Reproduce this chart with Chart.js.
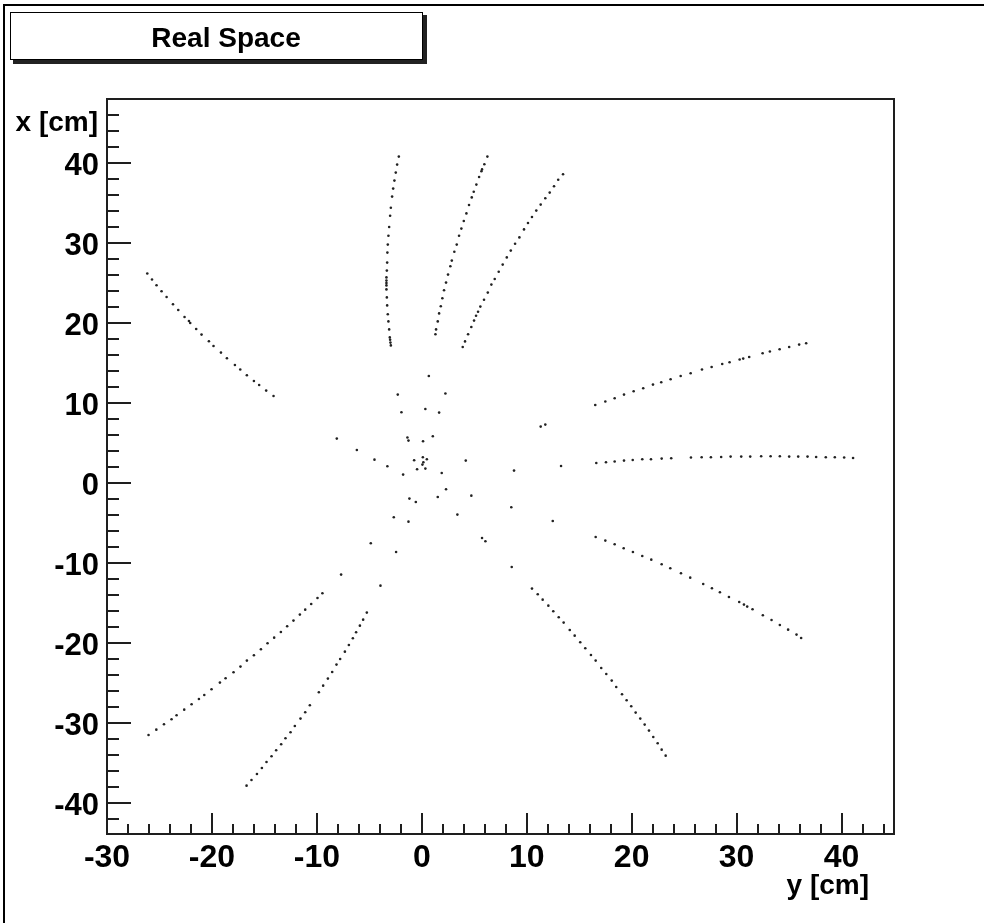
<!DOCTYPE html>
<html><head><meta charset="utf-8">
<script src="https://cdn.jsdelivr.net/npm/chart.js@4.4.1/dist/chart.umd.min.js"></script>
<style>html,body{margin:0;padding:0;background:#fff;overflow:hidden}#wrap{position:relative;width:984px;height:923px}</style>
</head><body><div id="wrap"><canvas id="c" width="984" height="923"></canvas></div>
<script>
// ---- data: horizontal axis = "y [cm]", vertical axis = "x [cm]" ----
const chartTitle = 'Real Space';
const horTitle = 'y [cm]';
const verTitle = 'x [cm]';
const horTickValues = [-30, -20, -10, 0, 10, 20, 30, 40];
const verTickValues = [-40, -30, -20, -10, 0, 10, 20, 30, 40];

const trackA_y = [-2.19,-2.35,-2.48,-2.61,-2.73,-2.83,-2.95,-3.02,-3.11,-3.18,-3.24,-3.28,-3.30,-3.33,-3.37,-3.37,-3.37,-3.37,-3.37,-3.33,-3.30,-3.24,-3.18,-3.11,-3.05,-3.02,-2.99,-2.95];
const trackA_x = [40.8,39.8,38.8,37.8,36.8,35.8,34.4,33.4,32.0,30.9,29.8,28.8,27.55,26.55,25.7,25.3,25.0,24.7,24.2,23.2,22.2,21.1,20.2,19.2,18.2,17.9,17.55,17.2];

const trackB_y = [6.25,5.96,5.74,5.68,5.46,5.20,4.95,4.76,4.50,4.25,4.00,3.77,3.55,3.33,3.10,2.86,2.72,2.50,2.31,2.12,1.96,1.81,1.65,1.52,1.36,1.30];
const trackB_x = [40.8,39.84,39.2,38.96,38.25,37.3,36.4,35.7,34.75,33.7,32.75,31.8,30.9,29.8,28.9,27.8,27.1,26.05,25.05,24.1,23.1,22.1,21.2,20.2,19.2,18.6];

const trackC_y = [13.46,13.0,12.6,12.19,11.77,11.33,10.91,10.5,10.12,9.74,9.3,8.89,8.48,8.1,7.71,7.33,6.95,6.63,6.29,5.93,5.58,5.36,5.17,4.98,4.72,4.41,4.12,3.9];
const trackC_x = [38.6,37.9,37.1,36.3,35.6,34.8,34.05,33.25,32.5,31.7,30.7,29.9,29.05,28.2,27.3,26.4,25.5,24.8,23.8,22.9,22.05,21.4,20.9,20.3,19.5,18.6,17.7,17.0];

const trackD_y = [16.53,17.49,18.38,19.27,20.19,21.1,22.03,22.82,23.71,24.67,25.62,26.7,27.62,28.63,29.33,30.29,30.63,31.2,32.48,33.17,34.1,35.01,35.96,36.63];
const trackD_x = [9.75,10.18,10.59,11.05,11.46,11.84,12.3,12.59,12.96,13.38,13.71,14.18,14.5,14.88,15.09,15.43,15.55,15.75,16.21,16.43,16.71,17.0,17.3,17.46];

const trackE_y = [16.63,17.55,18.38,19.27,20.1,21.01,21.84,22.86,23.77,25.65,26.67,27.55,28.53,29.43,30.44,31.3,32.34,33.24,34.12,35.01,35.87,36.76,37.58,38.5,39.36,40.25,41.1];
const trackE_x = [2.5,2.59,2.68,2.8,2.88,2.96,2.96,3.05,3.09,3.18,3.21,3.21,3.25,3.3,3.3,3.3,3.34,3.34,3.34,3.3,3.3,3.3,3.25,3.21,3.21,3.18,3.13];

const trackF_y = [16.57,17.49,18.38,19.24,20.12,21.01,21.87,22.86,23.68,24.7,25.58,26.82,27.65,28.41,29.27,30.25,30.7,31.01,31.52,32.5,33.33,34.12,34.91,35.71,36.15];
const trackF_x = [-6.75,-7.2,-7.66,-8.16,-8.63,-9.13,-9.58,-10.16,-10.66,-11.29,-11.83,-12.63,-13.16,-13.66,-14.25,-14.88,-15.2,-15.45,-15.79,-16.54,-17.13,-17.75,-18.33,-18.95,-19.38];

const trackG_y = [-26.16,-25.71,-25.28,-24.8,-24.32,-23.71,-23.21,-22.61,-22.19,-22.07,-21.5,-20.99,-20.29,-19.85,-19.14,-18.57,-17.81,-17.3,-16.67,-16.0,-15.5,-14.83,-14.13];
const trackG_x = [26.18,25.43,24.71,23.96,23.25,22.34,21.63,20.75,20.25,20.0,19.25,18.55,17.71,17.13,16.3,15.59,14.75,14.18,13.46,12.75,12.25,11.55,10.88];

const trackH_y = [-26.04,-25.3,-24.57,-23.85,-23.37,-22.64,-21.94,-21.24,-20.73,-20.04,-19.24,-18.7,-17.94,-17.28,-16.67,-16.0,-15.33,-14.7,-14.07,-13.43,-12.83,-12.23,-11.62,-11.11,-10.54,-9.94,-9.47];
const trackH_x = [-31.5,-30.83,-30.16,-29.54,-29.04,-28.33,-27.66,-27.0,-26.5,-25.79,-24.95,-24.41,-23.66,-22.95,-22.2,-21.54,-20.79,-20.04,-19.33,-18.63,-17.91,-17.2,-16.45,-15.83,-15.13,-14.38,-13.79];

const trackI_y = [-16.7,-16.23,-15.71,-15.24,-14.8,-14.32,-13.88,-13.4,-12.99,-12.51,-12.1,-11.56,-11.11,-10.67,-9.81,-9.4,-8.95,-8.54,-8.13,-7.78,-7.33,-6.95,-6.57,-6.26,-5.9,-5.59,-5.24];
const trackI_x = [-37.83,-37.13,-36.38,-35.63,-34.88,-34.16,-33.41,-32.66,-31.91,-31.16,-30.38,-29.45,-28.66,-27.79,-26.16,-25.33,-24.45,-23.63,-22.7,-22.0,-21.08,-20.25,-19.41,-18.66,-17.83,-17.08,-16.2];

const trackJ_y = [10.5,11.05,11.52,12.06,12.53,13.05,13.52,14.1,14.57,15.1,15.58,16.12,16.57,17.1,17.58,18.1,18.53,19.08,19.52,19.96,20.38,20.82,21.24,21.65,22.06,22.48,22.86,23.24];
const trackJ_x = [-13.2,-13.91,-14.58,-15.33,-16.04,-16.79,-17.45,-18.38,-19.08,-19.91,-20.66,-21.5,-22.2,-23.13,-23.88,-24.7,-25.5,-26.41,-27.16,-27.91,-28.7,-29.45,-30.2,-30.95,-31.75,-32.54,-33.33,-34.08];

const inner_y = [0.67,-2.29,2.25,-1.94,0.34,1.65,11.33,11.77,-8.1,-1.37,-1.27,0.12,1.05,-6.19,-4.51,-3.28,-0.73,0.1,0.48,0.15,0.06,-0.45,0.34,-1.78,1.9,4.19,8.79,13.27,2.31,1.52,4.72,-1.18,-0.57,8.53,3.39,-2.67,-1.27,12.48,-4.86,-2.45,5.74,6.06,-7.69,-3.94,8.57];
const inner_x = [13.38,11.05,11.18,8.84,9.25,8.8,7.05,7.3,5.55,5.68,5.3,5.21,5.84,4.13,2.92,2.09,2.84,3.21,2.96,2.59,2.3,1.71,1.8,1.05,1.25,2.8,1.55,2.13,-0.79,-1.75,-1.58,-1.95,-2.38,-3.04,-3.95,-4.29,-4.83,-4.75,-7.54,-8.63,-6.88,-7.29,-11.45,-12.83,-10.5];

const series = [
  [trackA_y, trackA_x], [trackB_y, trackB_x], [trackC_y, trackC_x], [trackD_y, trackD_x],
  [trackE_y, trackE_x], [trackF_y, trackF_x], [trackG_y, trackG_x], [trackH_y, trackH_x],
  [trackI_y, trackI_x], [trackJ_y, trackJ_x], [inner_y, inner_x]
];

const FONT = '"Liberation Sans", Arial, Helvetica, sans-serif';

const rootStyle = {
  id: 'rootStyle',
  afterDraw(chart) {
    const ctx = chart.ctx, xs = chart.scales.x, ys = chart.scales.y, a = chart.chartArea;
    ctx.save();
    // outer pad frame
    ctx.strokeStyle = '#000'; ctx.lineWidth = 2;
    ctx.beginPath();
    ctx.moveTo(4, 923); ctx.lineTo(4, 5); ctx.lineTo(984, 5);
    ctx.stroke();
    // plot frame
    ctx.strokeStyle = '#1e1e1e'; ctx.lineWidth = 2;
    ctx.strokeRect(a.left, a.top, a.right - a.left, a.bottom - a.top);
    // ticks
    ctx.beginPath();
    for (let v = Math.ceil(ys.min / 2) * 2; v < ys.max; v += 2) {
      const p = Math.round(ys.getPixelForValue(v));
      const len = (v % 10 === 0) ? 24 : 12;
      ctx.moveTo(a.left, p); ctx.lineTo(a.left + len, p);
    }
    for (let v = Math.ceil(xs.min / 2) * 2 + 2; v < xs.max; v += 2) {
      const p = Math.round(xs.getPixelForValue(v));
      const len = (v % 10 === 0) ? 21 : 10;
      ctx.moveTo(p, a.bottom); ctx.lineTo(p, a.bottom - len);
    }
    ctx.stroke();
    // axis titles
    ctx.fillStyle = '#000';
    ctx.font = 'bold 28px ' + FONT;
    ctx.textAlign = 'right'; ctx.textBaseline = 'alphabetic';
    ctx.fillText(verTitle, 98, 131);
    ctx.fillText(horTitle, 869, 894);
    // title box with shadow
    ctx.fillStyle = '#222';
    ctx.fillRect(13, 60, 414, 4);
    ctx.fillRect(423, 15, 4, 49);
    ctx.fillStyle = '#fff';
    ctx.fillRect(10, 12, 413, 48);
    ctx.strokeStyle = '#000'; ctx.lineWidth = 1;
    ctx.strokeRect(10.5, 12.5, 412, 47);
    ctx.fillStyle = '#000';
    ctx.font = 'bold 28px ' + FONT;
    ctx.textAlign = 'center';
    ctx.fillText(chartTitle, 226, 47);
    ctx.restore();
  }
};

new Chart(document.getElementById('c'), {
  type: 'scatter',
  data: {
    datasets: series.map(([h, v]) => ({
      data: h.map((val, i) => ({ x: val, y: v[i] })),
      pointRadius: 1.3,
      pointBackgroundColor: '#222',
      pointBorderWidth: 0,
      showLine: false
    }))
  },
  options: {
    responsive: false,
    animation: false,
    devicePixelRatio: 1,
    events: [],
    layout: { padding: { left: 3, top: 99, right: 90, bottom: 39 } },
    plugins: { legend: { display: false }, title: { display: false }, tooltip: { enabled: false } },
    scales: {
      x: {
        type: 'linear', position: 'bottom', min: -30, max: 45,
        grid: { display: false, drawTicks: false },
        border: { display: false },
        ticks: { font: { family: FONT, size: 32, weight: 'bold' }, color: '#000', padding: 5, maxRotation: 0, autoSkip: false },
        afterBuildTicks: s => { s.ticks = horTickValues.map(v => ({ value: v })); },
        afterFit: s => { s.height = 50; }
      },
      y: {
        type: 'linear', position: 'left', min: -43.875, max: 48,
        grid: { display: false, drawTicks: false },
        border: { display: false },
        ticks: { font: { family: FONT, size: 31, weight: 'bold' }, color: '#000', padding: 8, labelOffset: 3, autoSkip: false },
        afterBuildTicks: s => { s.ticks = verTickValues.map(v => ({ value: v })); },
        afterFit: s => { s.width = 104; }
      }
    }
  },
  plugins: [rootStyle]
});
</script>
</body></html>
